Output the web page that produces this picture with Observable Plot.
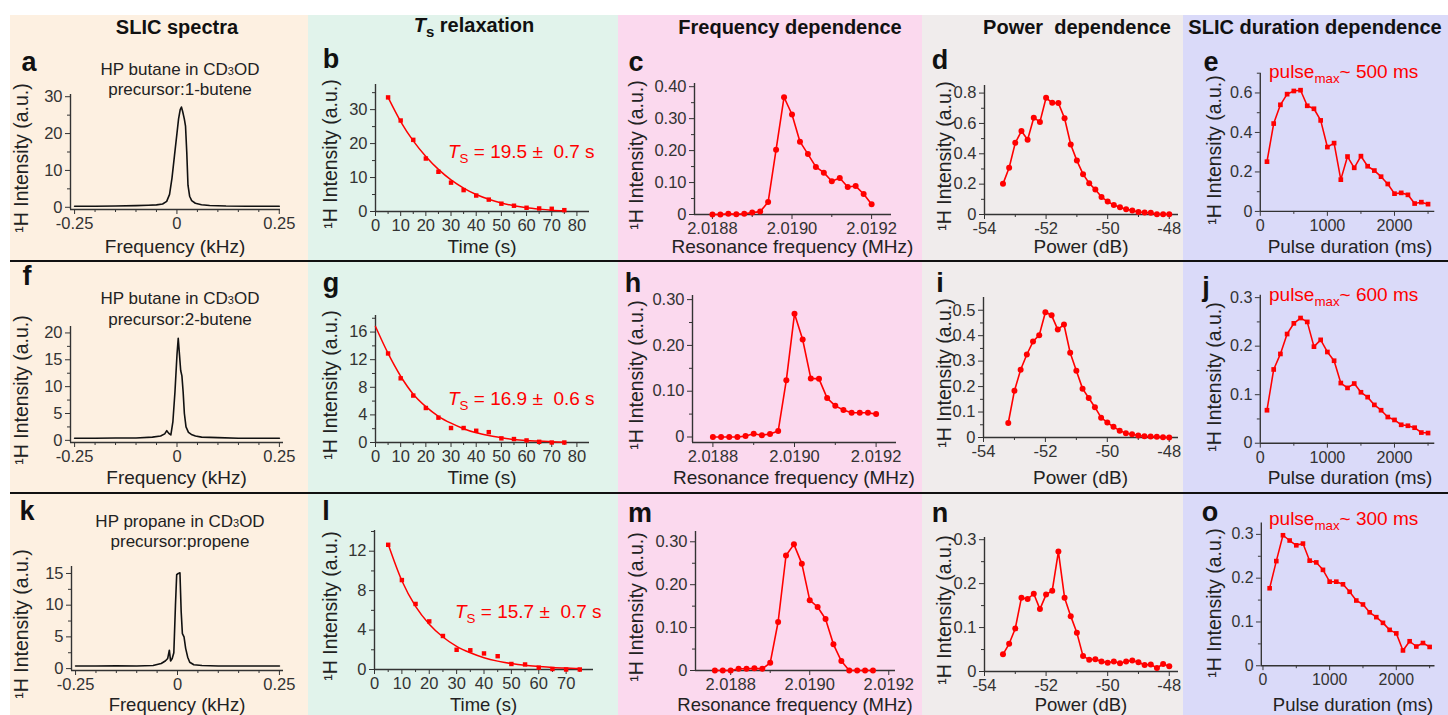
<!DOCTYPE html>
<html><head><meta charset="utf-8">
<script src="https://cdn.jsdelivr.net/npm/d3@7"></script>
<script src="https://cdn.jsdelivr.net/npm/@observablehq/plot@0.6"></script>
<style>
body{margin:0;background:#fff;font-family:"Liberation Sans",Arial,sans-serif;}
#root{position:relative;width:1448px;height:715px;overflow:hidden;background:#fff;}
.bg{position:absolute;top:15px;bottom:0;}
.hdr{position:absolute;font-weight:bold;font-size:20px;transform:translate(-50%,-50%);white-space:nowrap;color:#111;}
.sep{position:absolute;left:10px;right:0;height:2px;background:#111;}
.lett{position:absolute;font-weight:bold;font-size:27px;color:#111;transform:translate(-50%,-50%);line-height:1;}
.xt{position:absolute;font-size:19px;color:#222;transform:translate(-50%,-50%);white-space:nowrap;line-height:1;}
.yt{position:absolute;font-size:19.5px;color:#222;transform:translate(-50%,-50%) rotate(-90deg);white-space:nowrap;line-height:1;}
.ann{position:absolute;color:#f00;font-size:19px;white-space:nowrap;transform:translateY(-50%);line-height:1;}
.sub{position:absolute;font-size:17px;color:#222;transform:translate(-50%,-50%);white-space:nowrap;line-height:1;}
.pl{position:absolute;}
sub{font-size:70%;}
</style>
</head><body><div id="root"></div>
<script>
// ---------------- DATA ----------------
// SLIC spectra (frequency in kHz, intensity a.u.)
const specFreqA = [-0.25,-0.2,-0.15,-0.1,-0.07,-0.05,-0.035,-0.025,-0.018,-0.012,-0.006,0,0.004,0.008,0.011,0.014,0.018,0.021,0.024,0.027,0.031,0.036,0.045,0.06,0.08,0.12,0.17,0.25];
const specIntA  = [0.3,0.3,0.35,0.45,0.55,0.65,0.9,1.6,3.5,8,14,20,24,26.5,27.2,26,24,22,15,6,3,1.8,1.1,0.7,0.5,0.35,0.3,0.3];
const specFreqF = [-0.25,-0.2,-0.15,-0.1,-0.06,-0.04,-0.03,-0.025,-0.02,-0.015,-0.01,-0.005,0,0.003,0.006,0.009,0.012,0.015,0.018,0.022,0.028,0.035,0.045,0.06,0.1,0.15,0.2,0.25];
const specIntF  = [0.4,0.4,0.45,0.45,0.6,0.8,1.2,1.8,1.3,1.0,3.5,9,16,19,16,13,12,9,5,2.5,1.5,1.1,0.8,0.6,0.5,0.4,0.4,0.4];
const specFreqK = [-0.25,-0.2,-0.15,-0.1,-0.06,-0.04,-0.03,-0.024,-0.02,-0.017,-0.013,-0.009,-0.005,-0.002,0.002,0.006,0.009,0.012,0.016,0.02,0.025,0.03,0.04,0.06,0.1,0.15,0.2,0.25];
const specIntK  = [0.4,0.4,0.45,0.4,0.5,0.8,1.2,1.6,2.9,1.2,1.6,2.5,10,14.8,15,15.1,9,5.5,5,3.2,1.8,1.0,0.6,0.5,0.4,0.4,0.4,0.4];

// Ts relaxation (time s, intensity a.u.)
const timeS = [5,10,15,20,25,30,35,40,45,50,55,60,65,70,75];
const relaxB = [33.6,26.8,21.1,15.6,11.7,8.5,6.3,4.7,3.5,2.3,1.7,1.1,0.9,0.8,0.4];
const fitB   = [33.6,26.5,20.8,16.2,12.4,9.3,6.9,5.0,3.6,2.5,1.7,1.1,0.7,0.4,0.2];
const relaxG = [12.9,9.3,6.8,5.0,3.6,2.1,2.1,1.7,1.5,0.6,0.5,0.3,0.1,0.0,0.0];
const fitTimeG = [0,5,10,15,20,25,30,35,40,45,50,55,60,65,70,75];
const fitG   = [16.8,12.9,9.6,7.0,5.2,3.8,2.8,2.0,1.4,1.0,0.7,0.45,0.3,0.2,0.1,0.05];
const relaxL = [12.65,9.07,6.65,4.88,3.4,2.0,1.95,1.63,1.35,0.56,0.51,0.19,0.05,0,0];
const fitL   = [12.7,9.0,6.4,4.6,3.3,2.35,1.7,1.2,0.85,0.6,0.42,0.3,0.2,0.14,0.1];

// Frequency dependence (MHz)
const freqCH = [2.01880,2.01882,2.01884,2.01886,2.01888,2.01890,2.01892,2.01894,2.01896,2.01898,2.01900,2.01902,2.01904,2.01906,2.01908,2.01910,2.01912,2.01914,2.01916,2.01918,2.01920];
const freqIntC = [0,0,0.002,0.001,0.002,0.006,0.009,0.039,0.203,0.367,0.313,0.228,0.189,0.149,0.131,0.104,0.114,0.086,0.089,0.064,0.032];
const freqIntH = [0,0,0,0,0.002,0.007,0.004,0.0065,0.013,0.124,0.269,0.213,0.128,0.127,0.085,0.068,0.059,0.053,0.053,0.053,0.050];
const freqM = [2.01876,2.01878,2.01880,2.01882,2.01884,2.01886,2.01888,2.01890,2.01892,2.01894,2.01896,2.01898,2.01900,2.01902,2.01904,2.01906,2.01908,2.01910,2.01912,2.01914,2.01916];
const freqIntM = [0,0,0,0.004,0.004,0.005,0.004,0.018,0.113,0.268,0.294,0.249,0.164,0.148,0.120,0.061,0.022,0,0,0,0];

// Power dependence (dB)
const powerDN = [-53.4,-53.2,-53.0,-52.8,-52.6,-52.4,-52.2,-52.0,-51.8,-51.6,-51.4,-51.2,-51.0,-50.8,-50.6,-50.4,-50.2,-50.0,-49.8,-49.6,-49.4,-49.2,-49.0,-48.8,-48.6,-48.4,-48.2,-48.0];
const powIntD = [0.202,0.308,0.472,0.550,0.492,0.638,0.610,0.769,0.736,0.734,0.634,0.461,0.355,0.266,0.206,0.164,0.115,0.086,0.062,0.047,0.035,0.027,0.016,0.013,0.011,0.002,0.002,0.002];
const powerI = [-53.2,-53.0,-52.8,-52.6,-52.4,-52.2,-52.0,-51.8,-51.6,-51.4,-51.2,-51.0,-50.8,-50.6,-50.4,-50.2,-50.0,-49.8,-49.6,-49.4,-49.2,-49.0,-48.8,-48.6,-48.4,-48.2,-48.0];
const powIntI = [0.057,0.184,0.266,0.326,0.377,0.402,0.492,0.480,0.424,0.444,0.333,0.262,0.192,0.155,0.119,0.078,0.059,0.042,0.027,0.017,0.013,0.008,0.005,0.004,0.003,0.001,0];
const powIntN = [0.039,0.063,0.098,0.168,0.165,0.177,0.142,0.175,0.184,0.273,0.168,0.126,0.088,0.035,0.027,0.028,0.023,0.020,0.023,0.019,0.023,0.025,0.021,0.015,0.016,0.008,0.017,0.012];

// SLIC duration dependence (ms)
const pulseMs = [100,200,300,400,500,600,700,800,900,1000,1100,1200,1300,1400,1500,1600,1700,1800,1900,2000,2100,2200,2300,2400,2500];
const durIntE = [0.252,0.445,0.540,0.594,0.610,0.614,0.535,0.520,0.461,0.326,0.346,0.161,0.278,0.221,0.280,0.229,0.207,0.176,0.139,0.090,0.094,0.084,0.040,0.047,0.037];
const durIntJ = [0.068,0.152,0.184,0.225,0.247,0.258,0.250,0.199,0.213,0.188,0.170,0.124,0.114,0.123,0.105,0.095,0.079,0.068,0.054,0.048,0.038,0.036,0.032,0.022,0.021];
const durIntO = [0.177,0.239,0.298,0.286,0.275,0.279,0.240,0.236,0.219,0.192,0.192,0.186,0.169,0.149,0.140,0.122,0.111,0.098,0.082,0.074,0.035,0.056,0.044,0.052,0.043];

// Texts
const columnTitles = ["SLIC spectra", "<i>T</i><sub style='font-size:75%'>s</sub> relaxation", "Frequency dependence", "Power&nbsp; dependence", "SLIC duration dependence"];
const panelLetters = ["a","b","c","d","e","f","g","h","i","j","k","l","m","n","o"];
const yTitle = "¹H Intensity (a.u.)";
const xTitles = ["Frequency (kHz)", "Time (s)", "Resonance frequency (MHz)", "Power (dB)", "Pulse duration (ms)"];
const sampleLines = [["HP butane in CD<span style='font-size:11px'>3</span>OD","precursor:1-butene"],["HP butane in CD<span style='font-size:11px'>3</span>OD","precursor:2-butene"],["HP propane in CD<span style='font-size:11px'>3</span>OD","precursor:propene"]];
const tsLabels = ["19.5 ±&nbsp; 0.7 s", "16.9 ±&nbsp; 0.6 s", "15.7 ±&nbsp; 0.7 s"];
const pulseMaxLabels = ["500 ms", "600 ms", "300 ms"];

// ---------------- LAYOUT ----------------
const root = document.getElementById("root");
function add(cls, x, y, html, extra) {
  const d = document.createElement("div");
  d.className = cls; d.style.left = x + "px"; d.style.top = y + "px"; d.innerHTML = html;
  if (extra) Object.assign(d.style, extra);
  root.appendChild(d); return d;
}
const colBg = [[10,308,"#fdf0e1"],[308,618,"#e1f3eb"],[618,922,"#fbd9ee"],[922,1183,"#f0ecec"],[1183,1448,"#dadaf9"]];
colBg.forEach(([a,b,c]) => add("bg", a, 15, "", {width:(b-a)+"px", background:c, top:"15px"}));
[261, 493].forEach(y => add("sep", 10, y - 1, ""));
const hdrX = [177, 474, 790, 1077, 1315];
columnTitles.forEach((t,i) => add("hdr", hdrX[i], 27, t));

const red = "#ff0000";
const tbl = (xs, ys) => xs.map((x,i) => ({x, y: ys[i]}));
const fmt2 = d => d === 0 ? "0" : d.toFixed(2);
const fmt1 = d => d === 0 ? "0" : d.toFixed(1);
const fmt4 = d => d.toFixed(4);
const fmtI = d => String(d);
const rowTitleY = [246, 477, 705];

function panel(p) {
  const ml = 62, mr = 14, mt = 14, mb = 36;
  const W = p.fx1 - p.fx0 + ml + mr, H = p.fy1 - p.fy0 + mt + mb;
  const marks = [
    Plot.axisX({ticks: p.xm, tickSize: 3, tickFormat: () => "", label: null}),
    Plot.axisY({ticks: p.ym, tickSize: 3, tickFormat: () => "", label: null}),
    Plot.axisX({ticks: p.xt, tickSize: 5, tickPadding: 3, tickFormat: p.xf, label: null}),
    Plot.axisY({ticks: p.yt, tickSize: 5, tickPadding: 3, tickFormat: p.yf, label: null}),
    Plot.ruleX([p.xd[0]], {stroke: "#333", strokeWidth: 1.4}),
    Plot.ruleY([p.yd[0]], {stroke: "#333", strokeWidth: 1.4}),
    ...p.marks
  ];
  const svg = Plot.plot({
    width: W, height: H, marginLeft: ml, marginRight: mr, marginTop: mt, marginBottom: mb,
    x: {domain: p.xd}, y: {domain: p.yd},
    style: {background: "transparent", fontSize: "16.5px", fontFamily: "'Liberation Sans', Arial, sans-serif", color: "#333", overflow: "visible"},
    marks
  });
  const holder = add("pl", p.fx0 - ml, p.fy0 - mt, "");
  holder.appendChild(svg);
  add("xt", (p.fx0 + p.fx1) / 2, rowTitleY[p.row], p.xtitle, p.row === 2 ? {fontSize: "18.5px"} : null);
  add("yt", p.ylx, (p.fy0 + p.fy1) / 2 + 6, yTitle);
  add("lett", p.lx, p.ly, p.letter);
}

function specMarks(xs, ys) { return [Plot.line(tbl(xs, ys), {x: "x", y: "y", stroke: "#111", strokeWidth: 1.6})]; }
function dotLine(xs, ys, sym) {
  const d = tbl(xs, ys);
  return [Plot.line(d, {x: "x", y: "y", stroke: red, strokeWidth: 1.6}),
          Plot.dot(d, {x: "x", y: "y", fill: red, r: sym === "square" ? 2.7 : 3, symbol: sym || "circle"})];
}
function relaxMarks(xs, ys, fx, fy) {
  return [Plot.line(tbl(fx, fy), {x: "x", y: "y", stroke: red, strokeWidth: 1.5, curve: "monotone-x"}),
          Plot.dot(tbl(xs, ys), {x: "x", y: "y", fill: red, r: 2.5, symbol: "square"})];
}

const specX = {xt: [-0.25, 0, 0.25], xm: [-0.2,-0.15,-0.1,-0.05,0.05,0.1,0.15,0.2], xf: fmtI, xtitle: xTitles[0], ylx: 22};
const timeX = {xt: [0,10,20,30,40,50,60,70,80], xm: [5,15,25,35,45,55,65,75], xf: fmtI, xtitle: xTitles[1], ylx: 331};
const freqX = {xt: [2.0188, 2.0190, 2.0192], xm: [2.0189, 2.0191], xf: fmt4, xtitle: xTitles[2], ylx: 637};
const powX  = {xt: [-54,-52,-50,-48], xm: [-53,-51,-49], xf: fmtI, xtitle: xTitles[3], ylx: 945};
const durX  = {xt: [0,1000,2000], xm: [500,1500,2500], xf: fmtI, xtitle: xTitles[4], ylx: 1215};

// Row 1
panel({...specX, row: 0, letter: "a", lx: 29, ly: 62, fx0: 70, fx1: 280, fy0: 94, fy1: 209, xd: [-0.26, 0.253], yd: [-0.6, 30.6],
  yt: [0,10,20,30], ym: [5,15,25], yf: fmtI, marks: specMarks(specFreqA, specIntA)});
panel({...timeX, row: 0, letter: "b", lx: 331, ly: 59, fx0: 375, fx1: 589, fy0: 84, fy1: 211, xd: [0, 85], yd: [0, 37.4],
  yt: [0,10,20,30], ym: [5,15,25,35], yf: fmtI, marks: relaxMarks(timeS, relaxB, timeS, fitB)});
panel({...freqX, row: 0, letter: "c", lx: 636, ly: 62, fx0: 694, fx1: 891, fy0: 83, fy1: 214, xd: [2.018755, 2.01925], yd: [0, 0.41],
  yt: [0,0.1,0.2,0.3,0.4], ym: [0.05,0.15,0.25,0.35], yf: fmt2, marks: dotLine(freqCH, freqIntC)});
panel({...powX, row: 0, letter: "d", lx: 940, ly: 60, fx0: 984, fx1: 1178, fy0: 85, fy1: 214, xd: [-54, -47.7], yd: [0, 0.85],
  yt: [0,0.2,0.4,0.6,0.8], ym: [0.1,0.3,0.5,0.7], yf: fmt1, marks: dotLine(powerDN, powIntD)});
panel({...durX, row: 0, letter: "e", lx: 1211, ly: 62, fx0: 1261, fx1: 1439, fy0: 73, fy1: 214, xd: [0, 2600], yd: [0, 0.7],
  yt: [0,0.2,0.4,0.6], ym: [0.1,0.3,0.5,0.7], yf: fmt1, marks: dotLine(pulseMs, durIntE, "square")});
// Row 2
panel({...specX, row: 1, letter: "f", lx: 27, ly: 276, fx0: 70, fx1: 283, fy0: 326, fy1: 442, xd: [-0.26, 0.26], yd: [-0.4, 21.2],
  yt: [0,5,10,15,20], ym: [2.5,7.5,12.5,17.5], yf: fmtI, marks: specMarks(specFreqF, specIntF)});
panel({...timeX, row: 1, letter: "g", lx: 331, ly: 283, fx0: 375, fx1: 589, fy0: 315, fy1: 442, xd: [0, 85], yd: [0, 18.4],
  yt: [0,4,8,12,16], ym: [2,6,10,14,18], yf: fmtI, marks: relaxMarks(timeS, relaxG, fitTimeG, fitG)});
panel({...freqX, row: 1, letter: "h", lx: 633, ly: 283, fx0: 692, fx1: 896, fy0: 295, fy1: 442, xd: [2.01875, 2.01925], yd: [-0.012, 0.309],
  yt: [0,0.1,0.2,0.3], ym: [0.05,0.15,0.25], yf: fmt2, marks: dotLine(freqCH, freqIntH)});
panel({...powX, row: 1, letter: "i", lx: 940, ly: 283, fx0: 983, fx1: 1178, fy0: 297, fy1: 437, xd: [-54, -47.7], yd: [0, 0.55],
  yt: [0,0.1,0.2,0.3,0.4,0.5], ym: [0.05,0.15,0.25,0.35,0.45], yf: fmt1, marks: dotLine(powerI, powIntI)});
panel({...durX, row: 1, letter: "j", lx: 1206, ly: 287, fx0: 1261, fx1: 1439, fy0: 295, fy1: 446, xd: [0, 2600], yd: [0, 0.305],
  yt: [0,0.1,0.2,0.3], ym: [0.05,0.15,0.25], yf: fmt1, marks: dotLine(pulseMs, durIntJ, "square")});
// Row 3
panel({...specX, row: 2, letter: "k", lx: 27, ly: 511, fx0: 71, fx1: 283, fy0: 566, fy1: 670, xd: [-0.26, 0.26], yd: [-0.3, 16.1],
  yt: [0,5,10,15], ym: [2.5,7.5,12.5], yf: fmtI, marks: specMarks(specFreqK, specIntK)});
panel({...timeX, row: 2, xt: [0,10,20,30,40,50,60,70], letter: "l", lx: 326, ly: 511, fx0: 374, fx1: 593, fy0: 530, fy1: 669, xd: [0, 80], yd: [0, 14.1],
  yt: [0,4,8,12], ym: [2,6,10,14], yf: fmtI, marks: relaxMarks(timeS, relaxL, timeS, fitL)});
panel({...freqX, row: 2, letter: "m", lx: 640, ly: 513, fx0: 695, fx1: 895, fy0: 531, fy1: 670, xd: [2.018711, 2.019217], yd: [0, 0.324],
  yt: [0,0.1,0.2,0.3], ym: [0.05,0.15,0.25], yf: fmt2, marks: dotLine(freqM, freqIntM)});
panel({...powX, row: 2, letter: "n", lx: 940, ly: 513, fx0: 984, fx1: 1178, fy0: 537, fy1: 671, xd: [-54, -47.7], yd: [0, 0.305],
  yt: [0,0.1,0.2,0.3], ym: [0.05,0.15,0.25], yf: fmt1, marks: dotLine(powerDN, powIntN)});
panel({...durX, row: 2, letter: "o", lx: 1210, ly: 512, fx0: 1263, fx1: 1443, fy0: 523, fy1: 671, xd: [-25, 2580], yd: [0, 0.326],
  yt: [0,0.1,0.2,0.3], ym: [0.05,0.15,0.25], yf: fmt1, marks: dotLine(pulseMs, durIntO, "square")});

// Annotations
const subY = [[69, 89], [298, 319], [521, 541]];
sampleLines.forEach((ls, i) => { add("sub", 180, subY[i][0], ls[0]); add("sub", 180, subY[i][1], ls[1]); });
const tsPos = [[448, 154], [448, 401], [455, 614]];
tsLabels.forEach((t, i) => add("ann", tsPos[i][0], tsPos[i][1], "<i>T</i><sub>S</sub> = " + t));
const pmPos = [[1269, 74], [1269, 297], [1269, 521]];
pulseMaxLabels.forEach((t, i) => add("ann", pmPos[i][0], pmPos[i][1], "pulse<sub>max</sub>~ " + t));
</script>
</body></html>
